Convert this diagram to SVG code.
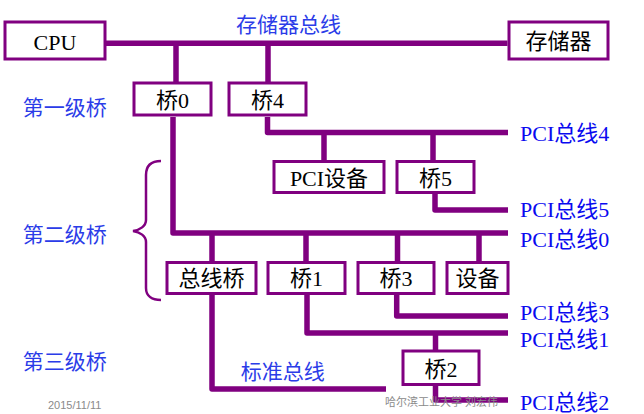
<svg xmlns="http://www.w3.org/2000/svg" width="644" height="414" viewBox="0 0 644 414">
<style>
.box{fill:#fff;stroke:#800080;stroke-width:3}
.bus{fill:none;stroke:#800080;stroke-width:5.5;stroke-linejoin:round;stroke-linecap:butt}
.t{font-family:"Liberation Serif","Noto Sans CJK SC",serif;font-size:22px;fill:#000;text-anchor:middle}
.lab{font-family:"Noto Sans CJK SC","Liberation Sans",sans-serif;font-size:21px;fill:#2b3ce8}
.pci{font-family:"Liberation Serif","Noto Sans CJK SC",serif;font-size:22px;fill:#0a0af0}
.foot{font-family:"Liberation Sans","Noto Sans CJK SC",sans-serif;font-size:11px;fill:#8a8a8a}
</style>
<rect width="644" height="414" fill="#fff"/>
<g id="connectors">
<path class="bus" d="M106 43.3H507.5"/>
<path class="bus" d="M176 43V82"/>
<path class="bus" d="M268 43V82"/>
<path class="bus" d="M173 117V233H508"/>
<path class="bus" d="M267.5 117V132.5H508"/>
<path class="bus" d="M324 132V160"/>
<path class="bus" d="M433 132V160"/>
<path class="bus" d="M435 194V210H508"/>
<path class="bus" d="M212 233V261"/>
<path class="bus" d="M306 233V261"/>
<path class="bus" d="M397.5 233V261"/>
<path class="bus" d="M479 233V261"/>
<path class="bus" d="M212 295V389H386"/>
<path class="bus" d="M307 295V333H508"/>
<path class="bus" d="M396.7 295V316H508"/>
<path class="bus" d="M435.5 333V350"/>
<path class="bus" d="M435.5 386V400H508"/>
<path d="M161 161C152 161 146 165 146 175L146 220C146 226 140 230 133 231C140 232 146 236 146 242L146 288C146 296 152 300 161 300" fill="none" stroke="#800080" stroke-width="2.5"/>
</g>
<g id="cpu"><rect class="box" x="5" y="22" width="100" height="37"/><text class="t" x="55" y="49.5">CPU</text></g>
<g id="memory"><rect class="box" x="509" y="22" width="99" height="37"/><text class="t" x="558.5" y="48.5">存储器</text></g>
<g id="bridge0"><rect class="box" x="134" y="83" width="77" height="32"/><text class="t" x="172.5" y="107.5">桥0</text></g>
<g id="bridge4"><rect class="box" x="229" y="83" width="77" height="32"/><text class="t" x="267.5" y="107.5">桥4</text></g>
<g id="pcidev"><rect class="box" x="274" y="161.5" width="110" height="31"/><text class="t" x="329" y="185.5">PCI设备</text></g>
<g id="bridge5"><rect class="box" x="397" y="161.5" width="77" height="31"/><text class="t" x="435.5" y="185.5">桥5</text></g>
<g id="busbridge"><rect class="box" x="167" y="262.5" width="89" height="31"/><text class="t" x="211.5" y="286">总线桥</text></g>
<g id="bridge1"><rect class="box" x="268" y="262.5" width="77" height="31"/><text class="t" x="306.5" y="286">桥1</text></g>
<g id="bridge3"><rect class="box" x="358" y="262.5" width="76" height="31"/><text class="t" x="396" y="286">桥3</text></g>
<g id="device"><rect class="box" x="447" y="262.5" width="61" height="31"/><text class="t" x="477.5" y="286">设备</text></g>
<g id="bridge2"><rect class="box" x="403" y="351" width="76" height="33.5"/><text class="t" x="441" y="376.5">桥2</text></g>
<g id="labels">
<text class="lab" x="236" y="31.5">存储器总线</text>
<text class="lab" x="22.7" y="115">第一级桥</text>
<text class="lab" x="22.7" y="241.5">第二级桥</text>
<text class="lab" x="22.7" y="368.5">第三级桥</text>
<text class="lab" x="240.7" y="379">标准总线</text>
<text class="pci" x="520" y="140.5">PCI总线4</text>
<text class="pci" x="520" y="217">PCI总线5</text>
<text class="pci" x="520" y="247">PCI总线0</text>
<text class="pci" x="520" y="320">PCI总线3</text>
<text class="pci" x="520" y="347">PCI总线1</text>
<text class="pci" x="520" y="410">PCI总线2</text>
<text class="foot" x="48" y="409">2015/11/11</text>
<text class="foot" x="385" y="406">哈尔滨工业大学  刘宏伟</text>
</g>
</svg>
